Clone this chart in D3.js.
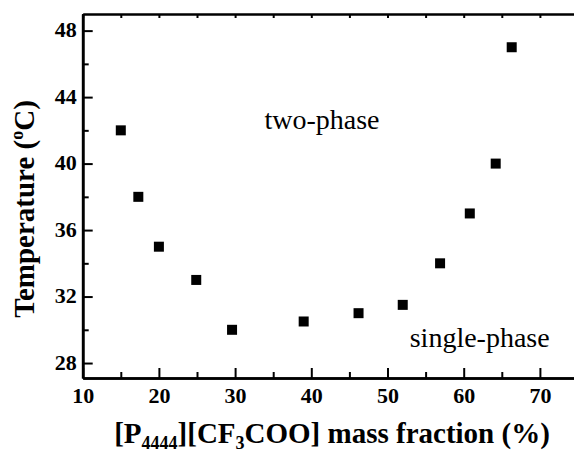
<!DOCTYPE html>
<html>
<head>
<meta charset="utf-8">
<script src="https://cdn.jsdelivr.net/npm/d3@7"></script>
<style>
  html, body { margin: 0; padding: 0; background: #fff; }
  svg { display: block; }
  svg text { font-family: 'Liberation Serif', 'Tinos', 'Times New Roman', Times, 'DejaVu Serif', serif !important; fill: #000; }
</style>
</head>
<body>
<svg id="chart" width="574" height="455"></svg>
<script>
// Data
const massFraction = [15, 17.3, 20, 24.9, 29.6, 39.0, 46.2, 52.0, 56.9, 60.8, 64.2, 66.3];
const temperature  = [42, 38, 35, 33, 30, 30.5, 31, 31.5, 34, 37, 40, 47];
const xMajorTicks = [10, 20, 30, 40, 50, 60, 70];
const xMinorTicks = [15, 25, 35, 45, 55, 65];
const yMajorTicks = [28, 32, 36, 40, 44, 48];
const yMinorTicks = [30, 34, 38, 42, 46];
const regionLabels = [
  { text: "two-phase", x: 41.4, y: 42.1 },
  { text: "single-phase", x: 62.1, y: 28.97 }
];

const svg = d3.select("#chart");
const mLeft = 82.7, mRight = 578, mTop = 14, mBottom = 378;

const x = d3.scaleLinear().domain([10, 75]).range([mLeft, mRight]);
const y = d3.scaleLinear().domain([27.1, 49]).range([mBottom, mTop]);

// Bottom axis (ticks inward)
const gx = svg.append("g").attr("transform", `translate(0,${mBottom})`);
gx.call(d3.axisBottom(x).tickValues(xMajorTicks).tickSize(-10).tickSizeOuter(0).tickPadding(12).tickFormat(d3.format("d")));
const gxm = svg.append("g").attr("transform", `translate(0,${mBottom})`);
gxm.call(d3.axisBottom(x).tickValues(xMinorTicks).tickSize(-6).tickSizeOuter(0).tickFormat(""));

// Top axis (small ticks inward)
const gt = svg.append("g").attr("transform", `translate(0,${mTop})`);
gt.call(d3.axisTop(x).tickValues(xMajorTicks.concat(xMinorTicks)).tickSize(-4).tickSizeOuter(0).tickFormat(""));

// Left axis
const gy = svg.append("g").attr("transform", `translate(${mLeft},0)`);
gy.call(d3.axisLeft(y).tickValues(yMajorTicks).tickSize(-10).tickSizeOuter(0).tickPadding(6).tickFormat(d3.format("d")));
const gym = svg.append("g").attr("transform", `translate(${mLeft},0)`);
gym.call(d3.axisLeft(y).tickValues(yMinorTicks).tickSize(-6).tickSizeOuter(0).tickFormat(""));

// Right axis
const gr = svg.append("g").attr("transform", `translate(${mRight},0)`);
gr.call(d3.axisRight(y).tickValues(yMajorTicks.concat(yMinorTicks)).tickSize(-4).tickSizeOuter(0).tickFormat(""));

svg.selectAll("g").attr("font-family", null);
svg.selectAll(".domain").attr("stroke", "#000").attr("stroke-width", 2.6);
svg.selectAll(".tick line").attr("stroke", "#000").attr("stroke-width", 2);
svg.selectAll(".tick text")
  .style("font-weight", "bold")
  .style("font-size", "22px")
  .attr("fill", "#000");
gx.selectAll(".tick text").attr("dy", "0.6em");
gy.selectAll(".tick text").attr("dy", "0.28em");

// Points
const pts = massFraction.map((m, i) => ({ m, t: temperature[i] }));
const ms = 10;
svg.append("g").selectAll("rect").data(pts).join("rect")
  .attr("x", d => x(d.m) - ms / 2)
  .attr("y", d => y(d.t) - ms / 2)
  .attr("width", ms).attr("height", ms)
  .attr("fill", "#000");

// Region labels
svg.append("g").selectAll("text").data(regionLabels).join("text")
  .attr("x", d => x(d.x)).attr("y", d => y(d.y))
  .attr("text-anchor", "middle")
  .style("font-size", "28px")
  .text(d => d.text);

// Y title
const yt = svg.append("text")
  .attr("transform", `translate(34,209) rotate(-90)`)
  .attr("text-anchor", "middle")
  .style("font-size", "29px").style("font-weight", "bold");
yt.append("tspan").text("Temperature (");
yt.append("tspan").attr("dy", -11).style("font-size", "18px").text("o");
yt.append("tspan").attr("dy", 11).text("C)");

// X title
const xt = svg.append("text")
  .attr("x", 332).attr("y", 443)
  .attr("text-anchor", "middle")
  .style("font-size", "29px").style("font-weight", "bold");
xt.append("tspan").text("[P");
xt.append("tspan").attr("dy", 6).style("font-size", "18px").text("4444");
xt.append("tspan").attr("dy", -6).text("][CF");
xt.append("tspan").attr("dy", 6).style("font-size", "18px").text("3");
xt.append("tspan").attr("dy", -6).text("COO] mass fraction (%)");
</script>
</body>
</html>
